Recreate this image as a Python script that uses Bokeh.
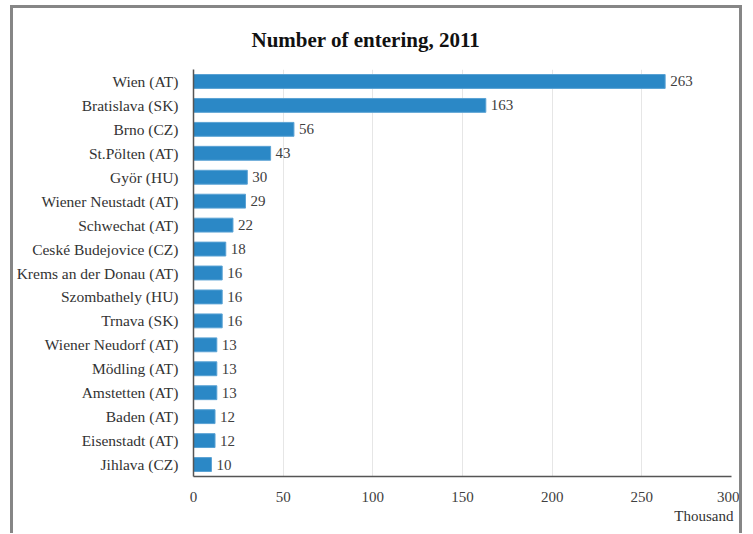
from bokeh.plotting import figure
from bokeh.models import ColumnDataSource, LabelSet, FactorRange, Title
from bokeh.embed import file_html
from bokeh.resources import INLINE

cities = ["Wien (AT)", "Bratislava (SK)", "Brno (CZ)", "St.Pölten (AT)", "Györ (HU)",
          "Wiener Neustadt (AT)", "Schwechat (AT)", "Ceské Budejovice (CZ)",
          "Krems an der Donau (AT)", "Szombathely (HU)", "Trnava (SK)",
          "Wiener Neudorf (AT)", "Mödling (AT)", "Amstetten (AT)", "Baden (AT)",
          "Eisenstadt (AT)", "Jihlava (CZ)"]
values = [263, 163, 56, 43, 30, 29, 22, 18, 16, 16, 16, 13, 13, 13, 12, 12, 10]
x_ticks = [0, 50, 100, 150, 200, 250, 300]
title_text = "Number of  entering, 2011"
unit_text = "Thousand"

FONT = "Liberation Serif"

src = ColumnDataSource(dict(city=cities, val=values, lab=[str(v) for v in values]))

p = figure(width=732, height=528, output_backend="svg", toolbar_location=None,
           y_range=FactorRange(factors=list(reversed(cities)), range_padding=0),
           x_range=(0, 300),
           min_border_left=170, min_border_right=14, min_border_top=59, min_border_bottom=60)
p.styles = {"border-left": "3px solid #868686", "border-top": "3px solid #868686",
            "border-right": "3px solid #868686", "margin-left": "10px", "margin-top": "5px"}

p.hbar(y="city", right="val", height=0.58, left=0, source=src,
       fill_color="#2B88C6", line_color="#5AA2D4", line_width=1)

labels = LabelSet(x="val", y="city", text="lab", source=src, x_offset=5,
                  text_baseline="middle", text_font=FONT, text_font_size="15px",
                  text_color="#404040")
p.add_layout(labels)

p.title.text = title_text
p.title.align = "left"
p.title.offset = 58
p.title.text_font = FONT
p.title.text_font_size = "21px"
p.title.text_font_style = "bold"
p.title.text_color = "#111111"
p.title.standoff = 35

unit_title = Title(text=unit_text, align="right", offset=-2, standoff=3,
                   text_font=FONT, text_font_size="15px", text_font_style="normal",
                   text_color="#333333")
p.add_layout(unit_title, "below")

p.xaxis.ticker = x_ticks
p.xaxis.major_tick_line_color = None
p.xaxis.minor_tick_line_color = None
p.xaxis.axis_line_color = "#555555"
p.xaxis.axis_line_width = 1.5
p.xaxis.major_label_text_font = FONT
p.xaxis.major_label_text_font_size = "15px"
p.xaxis.major_label_text_color = "#404040"
p.xaxis.major_label_standoff = 9

p.yaxis.major_tick_line_color = None
p.yaxis.minor_tick_line_color = None
p.yaxis.axis_line_color = "#555555"
p.yaxis.axis_line_width = 1.5
p.yaxis.major_label_text_font = FONT
p.yaxis.major_label_text_font_size = "15.5px"
p.yaxis.major_label_text_color = "#333333"
p.yaxis.major_label_standoff = 9

p.xgrid.ticker = x_ticks
p.xgrid.grid_line_color = "#E6E6E6"
p.ygrid.grid_line_color = None
p.outline_line_color = None

open("out.html", "w").write(file_html(p, INLINE))
